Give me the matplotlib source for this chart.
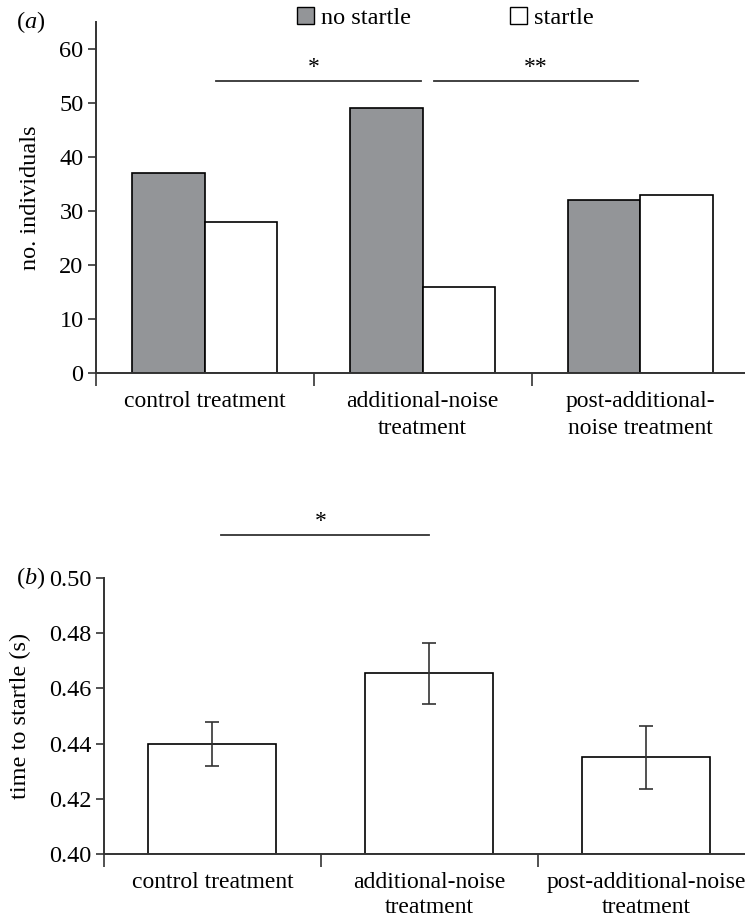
import matplotlib
matplotlib.use("Agg")
import matplotlib.pyplot as plt
from matplotlib.patches import Patch
import numpy as np

plt.rcParams['font.family'] = ['Liberation Serif', 'DejaVu Serif']
plt.rcParams['font.size'] = 17.5
plt.rcParams['mathtext.fontset'] = 'custom'
plt.rcParams['mathtext.it'] = 'Liberation Serif:italic'
plt.rcParams['mathtext.rm'] = 'Liberation Serif'

# Panel (a) data
cats_a = ["control treatment", "additional-noise\ntreatment", "post-additional-\nnoise treatment"]
no_startle = [37, 49, 32]
startle = [28, 16, 33]
series_a = ["no startle", "startle"]

# Panel (b) data
cats_b = ["control treatment", "additional-noise\ntreatment", "post-additional-noise\ntreatment"]
time_to_startle = [0.440, 0.4655, 0.435]
time_err = [0.008, 0.011, 0.0115]

GRAY = "#939598"
AXC = "#333333"

fig = plt.figure(figsize=(7.45, 9.22), dpi=100)

def style_axes(ax):
    for s in ["top", "right"]:
        ax.spines[s].set_visible(False)
    for s in ["left", "bottom"]:
        ax.spines[s].set_color(AXC)
        ax.spines[s].set_linewidth(1.4)
    ax.tick_params(axis="y", direction="out", length=6, width=1.2, color=AXC, pad=3)
    ax.tick_params(axis="x", which="major", length=0, pad=13)
    ax.tick_params(axis="x", which="minor", direction="out", length=9, width=1.2, color=AXC)

# ---------- panel a ----------
axa = fig.add_axes([96/745, 1-373/922, 1-96/745, (373-22)/922])
x = np.arange(len(cats_a))
w = 0.333
axa.bar(x - w/2, no_startle, w, color=GRAY, edgecolor="black", linewidth=1.2, label=series_a[0])
axa.bar(x + w/2, startle, w, color="white", edgecolor="black", linewidth=1.2, label=series_a[1])
axa.set_xlim(-0.5, 2.48)
axa.set_ylim(0, 65)
axa.set_yticks([0, 10, 20, 30, 40, 50, 60])
axa.set_xticks(x)
axa.set_xticklabels(cats_a, linespacing=1.35, fontsize=17)
axa.set_xticks([-0.5, 0.5, 1.5], minor=True)
style_axes(axa)
axa.set_ylabel("no. individuals", labelpad=13)
# significance
axa.plot([0.05, 0.99], [54, 54], color=AXC, lw=1.3)
axa.plot([1.05, 1.99], [54, 54], color=AXC, lw=1.3)
axa.text(0.50, 56.6, "*", ha="center", va="center", fontsize=17)
axa.text(1.52, 56.6, "**", ha="center", va="center", fontsize=17)
handles = [Patch(facecolor=GRAY, edgecolor="black", linewidth=1.0),
           Patch(facecolor="white", edgecolor="black", linewidth=1.0)]
fig.legend(handles, series_a, loc="center left", bbox_to_anchor=(297/745, 1-18/922),
           ncol=2, frameon=False, handlelength=0.7, handleheight=0.7,
           handletextpad=0.3, columnspacing=4.05, borderpad=0, borderaxespad=0)
fig.text(16/745, 1-22/922, r"($\mathit{a}$)", ha="left", va="center")

# ---------- panel b ----------
axb = fig.add_axes([104/745, 1-854/922, 1-104/745, (854-578)/922])
xb = np.arange(len(cats_b))
axb.bar(xb, [v - 0.40 for v in time_to_startle], 0.59, bottom=0.40, color="white",
        edgecolor="black", linewidth=1.2,
        yerr=time_err, capsize=5, error_kw=dict(ecolor=AXC, elinewidth=1.2, capthick=1.2))
axb.set_xlim(-0.5, 2.455)
axb.set_ylim(0.40, 0.50)
axb.set_yticks([0.40, 0.42, 0.44, 0.46, 0.48, 0.50])
axb.set_yticklabels(["0.40", "0.42", "0.44", "0.46", "0.48", "0.50"])
axb.set_xticks(xb)
axb.set_xticklabels(cats_b, linespacing=1.25, fontsize=17)
axb.set_xticks([-0.5, 0.5, 1.5], minor=True)
style_axes(axb)
axb.set_ylabel("time to startle (s)", labelpad=13)
axb.plot([0.04, 1.0], [0.5156, 0.5156], color=AXC, lw=1.3, clip_on=False)
axb.text(0.50, 0.5203, "*", ha="center", va="center", fontsize=17, clip_on=False)
fig.text(16/745, 1-578/922, r"($\mathit{b}$)", ha="left", va="center")

fig.savefig("out.png", dpi=100)
